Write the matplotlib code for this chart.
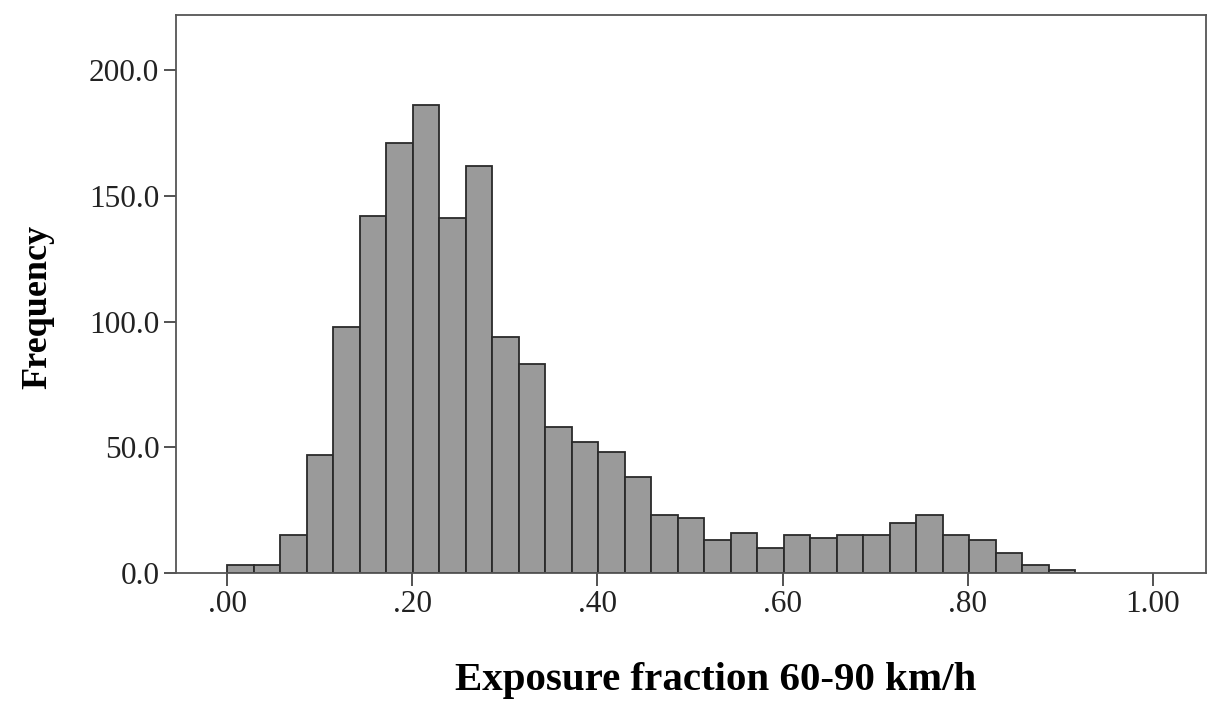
import numpy as np
import matplotlib
matplotlib.use("Agg")
import matplotlib.pyplot as plt

# Histogram data (counts per bin)
counts = [3, 3, 15, 47, 98, 142, 171, 186, 141, 162,
          94, 83, 58, 52, 48, 38, 23, 22, 13, 16,
          10, 15, 14, 15, 15, 20, 23, 15, 13, 8,
          3, 1]
bin_start = 0.0
bin_width = 0.02862
x_ticks = [0.0, 0.2, 0.4, 0.6, 0.8, 1.0]
x_tick_labels = [".00", ".20", ".40", ".60", ".80", "1.00"]
y_ticks = [0, 50, 100, 150, 200]
y_tick_labels = ["0.0", "50.0", "100.0", "150.0", "200.0"]
x_label = "Exposure fraction 60-90 km/h"
y_label = "Frequency"

plt.rcParams['font.family'] = ['Liberation Serif', 'DejaVu Serif']

fig = plt.figure(figsize=(12.15, 7.10), dpi=100)
ax = fig.add_axes([176/1215, 1 - 573/710, (1206-176)/1215, (573-15)/710])

edges = bin_start + bin_width * np.arange(len(counts) + 1)
ax.bar(edges[:-1], counts, width=bin_width, align='edge',
       color='#9a9a9a', edgecolor='#2a2a2a', linewidth=1.3)

ax.set_xlim(-0.0551, 1.0572)
ax.set_ylim(0, 221.9)

ax.set_xticks(x_ticks)
ax.set_xticklabels(x_tick_labels)
ax.set_yticks(y_ticks)
ax.set_yticklabels(y_tick_labels)

for s in ax.spines.values():
    s.set_color('#555555')
    s.set_linewidth(1.3)

ax.tick_params(axis='both', direction='out', length=9, width=1.3,
               color='#444444', labelsize=22.5, labelcolor='#222222', pad=3)

ax.set_xlabel(x_label, fontsize=29.5, fontweight='bold', va='center')
ax.xaxis.set_label_coords(0.524, -0.192)
ax.set_ylabel(y_label, fontsize=26, fontweight='bold', va='center')
ax.yaxis.set_label_coords(-0.134, 0.477)

fig.savefig("out.png", dpi=100, facecolor='white')
